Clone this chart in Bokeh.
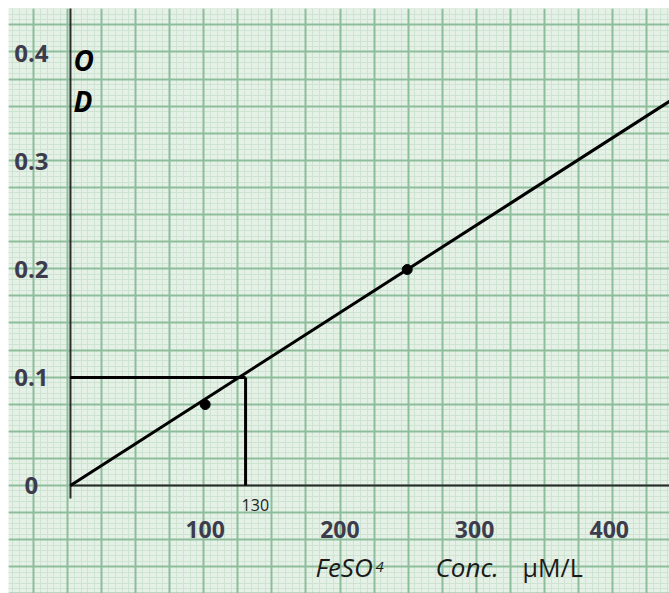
import numpy as np
from bokeh.plotting import figure
from bokeh.models import Range1d, Grid, FixedTicker
from bokeh.core.properties import value
from bokeh.embed import file_html
from bokeh.resources import INLINE

# ---------------- data ----------------
points_x = [100, 250]            # FeSO4 concentration, µM/L
points_y = [0.075, 0.2]          # OD
line_x = [0, 450]                # calibration line
line_y = [0, 0.36]
read_x = 130                     # read-off concentration
read_y = 0.1                     # read-off OD
x_ticks = [100, 200, 300, 400]
x_tick_labels = ["100", "200", "300", "400"]
y_ticks = [0, 0.1, 0.2, 0.3, 0.4]
y_tick_labels = ["0", "0.1", "0.2", "0.3", "0.4"]

# ---------------- layout / style ----------------
W, H = 669, 593
X0, X1 = -46.0, 444.7
Y0, Y1 = -0.1, 0.4417
PAPER_XOFF, PAPER_DX = -2.2, 25.29     # graph-paper cell (x, data units)
PAPER_YOFF, PAPER_DY = 0.0, 0.02509    # graph-paper cell (y, data units)
FONT = value("Open Sans")

p = figure(width=W, height=H, x_range=Range1d(X0, X1), y_range=Range1d(Y0, Y1),
           x_axis_type=None, y_axis_type=None, toolbar_location=None,
           output_backend="svg", min_border=0, min_border_left=8, min_border_top=8,
           outline_line_color=None,
           background_fill_color="#e5f0e7", border_fill_color="white")

def paper(off, step, lo, hi):
    k0 = int(np.floor((lo - off) / step)) - 1
    k1 = int(np.ceil((hi - off) / step)) + 1
    return [float(off + k * step) for k in range(k0, k1 + 1)]

fine_x = paper(PAPER_XOFF, PAPER_DX / 5, X0, X1)
fine_y = paper(PAPER_YOFF, PAPER_DY / 5, Y0, Y1)
cell_x = paper(PAPER_XOFF, PAPER_DX, X0, X1)
cell_y = paper(PAPER_YOFF, PAPER_DY, Y0, Y1)

for dim, ticks in ((0, fine_x), (1, fine_y)):
    p.add_layout(Grid(dimension=dim, ticker=FixedTicker(ticks=ticks),
                      grid_line_color="#cfe3d3", grid_line_width=1))
for dim, ticks in ((0, cell_x), (1, cell_y)):
    p.add_layout(Grid(dimension=dim, ticker=FixedTicker(ticks=ticks),
                      grid_line_color="#8dbd9b", grid_line_width=2))

# axes lines drawn on the paper
p.segment(x0=[0], y0=[0], x1=[X1 + 10], y1=[0], line_color="#2a2a2a", line_width=2)
p.segment(x0=[0], y0=[-0.012], x1=[0], y1=[Y1 + 0.01], line_color="#2a2a2a", line_width=2)

# read-off lines
p.segment(x0=[0, read_x], y0=[read_y, 0], x1=[read_x, read_x], y1=[read_y, read_y],
          line_color="black", line_width=3)

# calibration line and points
p.line(line_x, line_y, line_color="black", line_width=3)
p.scatter(points_x, points_y, size=10, color="black")

# tick labels
p.text(x=[-29] * len(y_ticks), y=y_ticks, text=y_tick_labels, text_align="center",
       text_baseline="alphabetic", text_font=FONT, text_font_size="24px",
       text_font_style="bold", text_color="#3c3c4c")
p.text(x=x_ticks, y=[-0.0405] * len(x_ticks), text=x_tick_labels, text_align="center",
       text_baseline="alphabetic", text_font=FONT, text_font_size="23px",
       text_font_style="bold", text_color="#3c3c4c")
p.text(x=[read_x], y=[-0.0185], text=[str(read_x)], x_offset=-4, text_align="left",
       text_baseline="alphabetic", text_font=FONT, text_font_size="16px",
       text_color="#222222")

# y-axis title "O D"
p.text(x=[2.2, 2.2], y=[0.3944, 0.3556], text=["O", "D"], text_align="left",
       text_baseline="alphabetic", text_font=FONT, text_font_size="28px",
       text_font_style="bold italic", text_color="black")

# x-axis title
p.text(x=[181.9], y=[-0.0759], text=["FeSO"], text_align="left", text_baseline="alphabetic",
       text_font=FONT, text_font_size="26px", text_font_style="italic", text_color="#1a1a1a")
p.text(x=[226.5], y=[-0.0759], text=["4"], text_align="left", text_baseline="alphabetic",
       text_font=FONT, text_font_size="15px", text_font_style="italic", text_color="#1a1a1a")
p.text(x=[271], y=[-0.0759], text=["Conc."], text_align="left", text_baseline="alphabetic",
       text_font=FONT, text_font_size="26px", text_font_style="italic", text_color="#1a1a1a")
p.text(x=[335.6], y=[-0.0759], text=["µM/L"], text_align="left", text_baseline="alphabetic",
       text_font=FONT, text_font_size="25px", text_color="#1a1a1a")

open("out.html", "w").write(file_html(p, INLINE))
